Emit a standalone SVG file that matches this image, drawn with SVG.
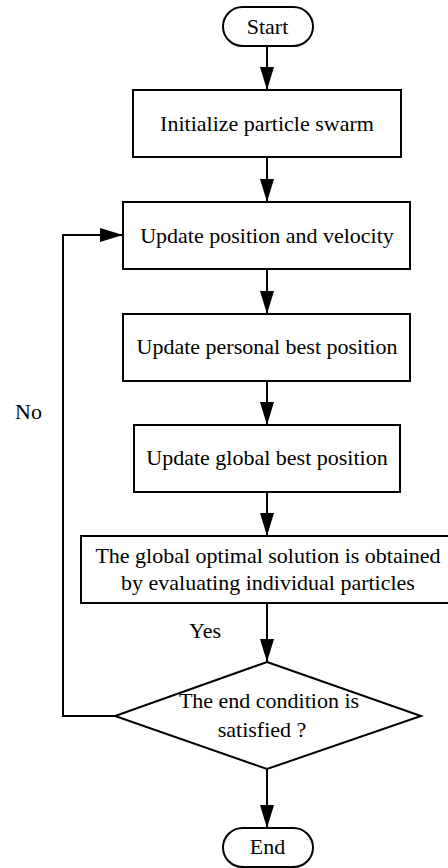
<svg xmlns="http://www.w3.org/2000/svg" width="448" height="868" viewBox="0 0 448 868">
<style>
.shape{fill:#fff;stroke:#000;stroke-width:2}
.conn{fill:none;stroke:#000;stroke-width:2}
text{font-family:"Times New Roman","Liberation Serif","DejaVu Serif",serif;font-size:22px;fill:#000}
.c{text-anchor:middle}
</style>
<defs>
<marker id="arr" markerUnits="userSpaceOnUse" viewBox="0 0 23 14" refX="23" refY="7" markerWidth="23" markerHeight="14" orient="auto">
<path d="M0,0 L23,7 L0,14 z" fill="#000"/>
</marker>
</defs>
<rect width="448" height="868" fill="#fff"/>
<g id="connectors">
<line class="conn" x1="267" y1="46" x2="267" y2="90" marker-end="url(#arr)"/>
<line class="conn" x1="267" y1="157" x2="267" y2="202" marker-end="url(#arr)"/>
<line class="conn" x1="267" y1="269" x2="267" y2="314" marker-end="url(#arr)"/>
<line class="conn" x1="267" y1="381" x2="267" y2="425" marker-end="url(#arr)"/>
<line class="conn" x1="267" y1="492" x2="267" y2="536" marker-end="url(#arr)"/>
<line class="conn" x1="267" y1="603" x2="267" y2="662" marker-end="url(#arr)"/>
<line class="conn" x1="267" y1="769" x2="267" y2="828" marker-end="url(#arr)"/>
<polyline class="conn" points="115,716 63,716 63,235 123,235" marker-end="url(#arr)"/>
<text x="189" y="638">Yes</text>
<text x="15" y="419">No</text>
</g>
<g id="start">
<rect class="shape" x="223" y="7" width="90" height="39" rx="19.5"/>
<text class="c" x="267.5" y="34">Start</text>
</g>
<g id="init">
<rect class="shape" x="133" y="90" width="268" height="67"/>
<text class="c" x="267" y="131">Initialize particle swarm</text>
</g>
<g id="update-pv">
<rect class="shape" x="123" y="202" width="287" height="67"/>
<text class="c" x="267" y="243">Update position and velocity</text>
</g>
<g id="update-personal">
<rect class="shape" x="123" y="314" width="287" height="67"/>
<text class="c" x="267" y="354">Update personal best position</text>
</g>
<g id="update-global">
<rect class="shape" x="134" y="425" width="266" height="67"/>
<text class="c" x="267" y="465">Update global best position</text>
</g>
<g id="evaluate">
<rect class="shape" x="81" y="536" width="372" height="67"/>
<text class="c" x="268" y="563">The global optimal solution is obtained</text>
<text class="c" x="268" y="590">by evaluating individual particles</text>
</g>
<g id="decision">
<polygon class="shape" points="267,662 421,716 267,769 115,716"/>
<text class="c" x="269" y="708">The end condition is</text>
<text class="c" x="262" y="737">satisfied ?</text>
</g>
<g id="end">
<rect class="shape" x="223" y="828" width="90" height="39" rx="19.5"/>
<text class="c" x="267.5" y="854">End</text>
</g>
</svg>
